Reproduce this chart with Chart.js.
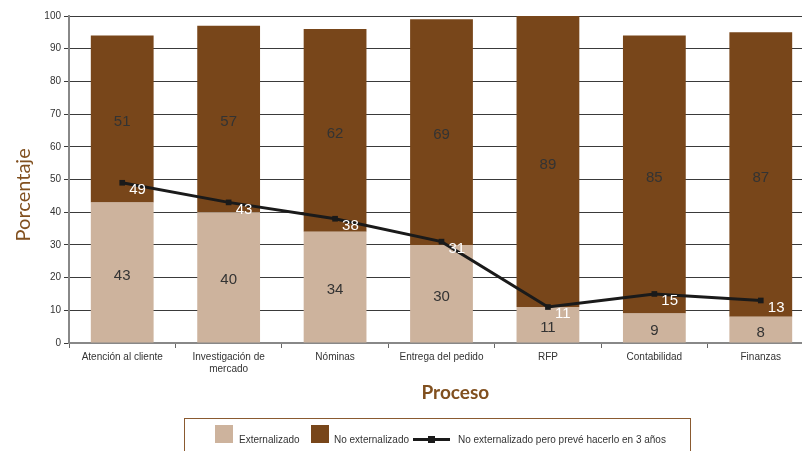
<!DOCTYPE html>
<html>
<head>
<meta charset="utf-8">
<script src="https://cdn.jsdelivr.net/npm/chart.js@4.4.1/dist/chart.umd.min.js"></script>
<style>
    html, body { margin: 0; padding: 0; background: #fff; overflow: hidden; }
    #wrap { position: relative; width: 830px; height: 451px; }
    #legend { position: absolute; left: 184px; top: 418px; width: 507px; height: 40px;
              border: 1.5px solid #8a5a30; box-sizing: border-box;
              font: 10px "Liberation Sans", Arial, sans-serif; color: #333; }
    #legend .sw { position: absolute; top: 6px; width: 18px; height: 18px; }
    #legend .tx { position: absolute; top: 15px; line-height: 12px; white-space: nowrap; }
    #legend .ln { position: absolute; top: 19px; width: 37px; height: 3px; background: #1a1a1a; }
    #legend .mk { position: absolute; top: 17px; width: 7px; height: 7px; background: #1a1a1a; }
</style>
</head>
<body>
<div id="wrap">
    <canvas id="chart"></canvas>
    <div id="legend"></div>
</div>
<script>
    const procesos = ["Atención al cliente", ["Investigación de", "mercado"], "Nóminas", "Entrega del pedido", "RFP", "Contabilidad", "Finanzas"];
    const externalizado = [43, 40, 34, 30, 11, 9, 8];
    const noExternalizado = [51, 57, 62, 69, 89, 85, 87];
    const preveHacerlo = [49, 43, 38, 31, 11, 15, 13];

    const colorClaro = "#cdb39d";
    const colorOscuro = "#78461a";
    const colorLinea = "#1a1a1a";
    const colorTitulo = "#81501f";

    // Legend (HTML, with a brown border box like the original)
    const legend = document.getElementById("legend");
    legend.innerHTML =
        '<div class="sw" style="left:30px;background:' + colorClaro + '"></div>' +
        '<div class="tx" style="left:54px">Externalizado</div>' +
        '<div class="sw" style="left:126px;background:' + colorOscuro + '"></div>' +
        '<div class="tx" style="left:149px">No externalizado</div>' +
        '<div class="ln" style="left:228px"></div>' +
        '<div class="mk" style="left:243px"></div>' +
        '<div class="tx" style="left:273px">No externalizado pero prevé hacerlo en 3 años</div>';

    // Value labels: dark numbers inside bars, white numbers next to line points
    const valueLabels = {
        id: "valueLabels",
        afterDatasetsDraw(chart) {
            const ctx = chart.ctx;
            ctx.save();
            ctx.font = '15px "Liberation Sans", Arial, sans-serif';
            ctx.textBaseline = "middle";
            chart.data.datasets.forEach((ds, i) => {
                const meta = chart.getDatasetMeta(i);
                meta.data.forEach((el, j) => {
                    if (ds.type === "line") {
                        ctx.fillStyle = "#ffffff";
                        ctx.textAlign = "left";
                        ctx.fillText(ds.data[j], el.x + 7, el.y + 7);
                    } else {
                        ctx.fillStyle = "#333333";
                        ctx.textAlign = "center";
                        ctx.fillText(ds.data[j], el.x, (el.y + el.base) / 2 + 3);
                    }
                });
            });
            ctx.restore();
        }
    };

    const ctx = document.getElementById("chart").getContext("2d");
    new Chart(ctx, {
        type: "bar",
        data: {
            labels: procesos,
            datasets: [
                {
                    type: "line",
                    label: "No externalizado pero prevé hacerlo en 3 años",
                    data: preveHacerlo,
                    stack: "linea",
                    borderColor: colorLinea,
                    backgroundColor: colorLinea,
                    borderWidth: 3,
                    pointStyle: "rect",
                    pointRadius: 4,
                    pointBorderWidth: 0,
                    tension: 0,
                    order: 0
                },
                {
                    label: "Externalizado",
                    data: externalizado,
                    backgroundColor: colorClaro,
                    stack: "barra",
                    order: 1
                },
                {
                    label: "No externalizado",
                    data: noExternalizado,
                    backgroundColor: colorOscuro,
                    stack: "barra",
                    order: 1
                }
            ]
        },
        options: {
            responsive: true,
            maintainAspectRatio: false,
            animation: false,
            layout: { padding: { top: 16, right: 16, bottom: 38, left: 0 } },
            datasets: { bar: { barPercentage: 0.59, categoryPercentage: 1 } },
            plugins: {
                legend: { display: false },
                tooltip: { enabled: false }
            },
            scales: {
                x: {
                    stacked: true,
                    afterFit: s => { s.height = 70; },
                    grid: { offset: true, drawOnChartArea: false, drawTicks: true, tickLength: 5, color: "#666" },
                    border: { color: "#888", width: 2 },
                    ticks: { color: "#333", font: { family: '"Liberation Sans", Arial, sans-serif', size: 10 }, padding: 3, maxRotation: 0 },
                    title: {
                        display: true,
                        // leading spaces push the title a little right of the axis centre, as in the original
                        text: "      Proceso",
                        color: colorTitulo,
                        font: { family: "Lato, sans-serif", size: 19, weight: "bold" },
                        padding: { top: 0, bottom: 9 }
                    }
                },
                y: {
                    stacked: true,
                    min: 0,
                    max: 100,
                    afterFit: s => { s.width = 69; },
                    grid: { color: "#3a3a3a", lineWidth: 1, drawTicks: true, tickLength: 5 },
                    border: { color: "#888", width: 2 },
                    ticks: { stepSize: 10, color: "#333", font: { family: '"Liberation Sans", Arial, sans-serif', size: 10 }, padding: 3 },
                    title: {
                        display: true,
                        // trailing spaces move the rotated title down a bit
                        text: "Porcentaje      ",
                        color: colorTitulo,
                        font: { family: "Lato, sans-serif", size: 20 },
                        padding: { top: 12, bottom: 0 }
                    }
                }
            }
        },
        plugins: [valueLabels]
    });
</script>
</body>
</html>
